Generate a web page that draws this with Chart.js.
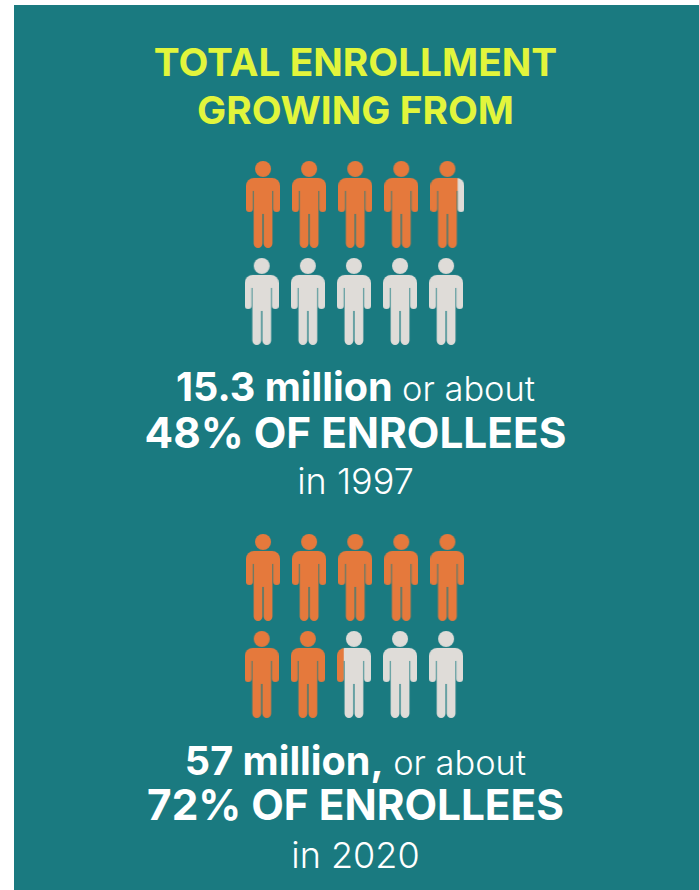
<!DOCTYPE html>
<html>
<head>
<meta charset="utf-8">
<title>Total enrollment</title>
<script src="https://cdn.jsdelivr.net/npm/chart.js@4"></script>
<style>
  html, body { margin: 0; padding: 0; background: #fff; }
  body { width: 699px; height: 890px; overflow: hidden; position: relative; font-family: Inter, sans-serif; }
  #panel { position: absolute; left: 14px; top: 5px; width: 685px; height: 885px; background: #1a7a80; }
  .line { position: absolute; left: 0; width: 711px; text-align: center; white-space: nowrap; color: #fff; }
  .head { color: #e2f53c; font-weight: 700; font-size: 38.8px; line-height: 46px; }
  .big { font-weight: 700; font-size: 42.3px; line-height: 40px; }
  .mid { display: inline-block; font-weight: 700; font-size: 39.6px; line-height: 40px; }
  .light { display: inline-block; font-weight: 300; font-size: 34.4px; line-height: 40px; margin-left: 5px; }
  .year { font-weight: 300; font-size: 36px; line-height: 40px; }
  .chart { position: absolute; left: 230px; width: 250px; height: 194px; }
</style>
</head>
<body>
<div id="panel"></div>
<div class="line head" style="top:39px">TOTAL ENROLLMENT</div>
<div class="line head" style="top:87px">GROWING FROM</div>
<div class="chart" style="top:157px"><canvas id="chart1997"></canvas></div>
<div class="line" style="top:367px"><span class="mid">15.3 million</span> <span class="light">or about</span></div>
<div class="line big" style="top:413px">48% OF ENROLLEES</div>
<div class="line year" style="top:461px">in 1997</div>
<div class="chart" style="top:530px"><canvas id="chart2020"></canvas></div>
<div class="line" style="top:741px"><span class="mid">57 million,</span> <span class="light">or about</span></div>
<div class="line big" style="top:785px">72% OF ENROLLEES</div>
<div class="line year" style="top:835px">in 2020</div>
<script>
// share of enrollees per year, one person stands for ten percent
const sharePercent1997 = 48;
const sharePercent2020 = 72;
const personColumns = [1, 2, 3, 4, 5];
const personRows = [1, 2];
const rowShift = [0, -0.028];

const ORANGE = '#e5793c';
const GREY = '#dfdcd8';

// person glyph on a 34x87 grid
function personPath(c) {
    c.beginPath();
    c.arc(17, 8, 8, 0, Math.PI * 2);
    c.fill();
    // shoulders
    c.beginPath();
    c.roundRect(0, 17, 34, 13, [8, 8, 0, 0]);
    c.fill();
    // arms
    c.beginPath();
    c.roundRect(0, 28, 6.8, 23, [0, 0, 3, 3]);
    c.roundRect(27.2, 28, 6.8, 23, [0, 0, 3, 3]);
    c.fill();
    // torso and legs
    c.beginPath();
    c.rect(7.6, 28, 18.8, 25);
    c.roundRect(7.6, 52, 8.8, 35, [0, 0, 4.4, 4.4]);
    c.roundRect(17.6, 52, 8.8, 35, [0, 0, 4.4, 4.4]);
    c.fill();
}

// filled in ORANGE from the left up to fill (0..1), the rest stays GREY
function personIcon(fill) {
    const cv = document.createElement('canvas');
    cv.width = 34;
    cv.height = 87;
    const c = cv.getContext('2d');
    c.fillStyle = GREY;
    personPath(c);
    c.globalCompositeOperation = 'source-atop';
    c.fillStyle = ORANGE;
    c.fillRect(0, 0, 34 * fill, 87);
    return cv;
}

function drawPeople(id, share) {
    const points = [];
    const icons = [];
    personRows.forEach((row, r) => {
        personColumns.forEach((col, i) => {
            const idx = r * personColumns.length + i;
            const fill = Math.max(0, Math.min(1, share / 10 - idx));
            points.push({ x: col + rowShift[r], y: row });
            icons.push(personIcon(fill));
        });
    });
    new Chart(document.getElementById(id), {
        type: 'scatter',
        data: {
            datasets: [{
                data: points,
                clip: false,
                pointStyle: (context) => icons[context.dataIndex],
                pointRadius: 20,
                pointHoverRadius: 20
            }]
        },
        options: {
            responsive: false,
            animation: false,
            layout: { padding: 0, autoPadding: false },
            plugins: { legend: { display: false }, tooltip: { enabled: false } },
            scales: {
                x: { display: false, min: 0.284, max: 5.707 },
                y: { display: false, min: 0.511, max: 2.511, reverse: true }
            }
        }
    });
}

for (const c of document.querySelectorAll('canvas')) { c.width = 250; c.height = 194; }
drawPeople('chart1997', sharePercent1997);
drawPeople('chart2020', sharePercent2020);
</script>
</body>
</html>
